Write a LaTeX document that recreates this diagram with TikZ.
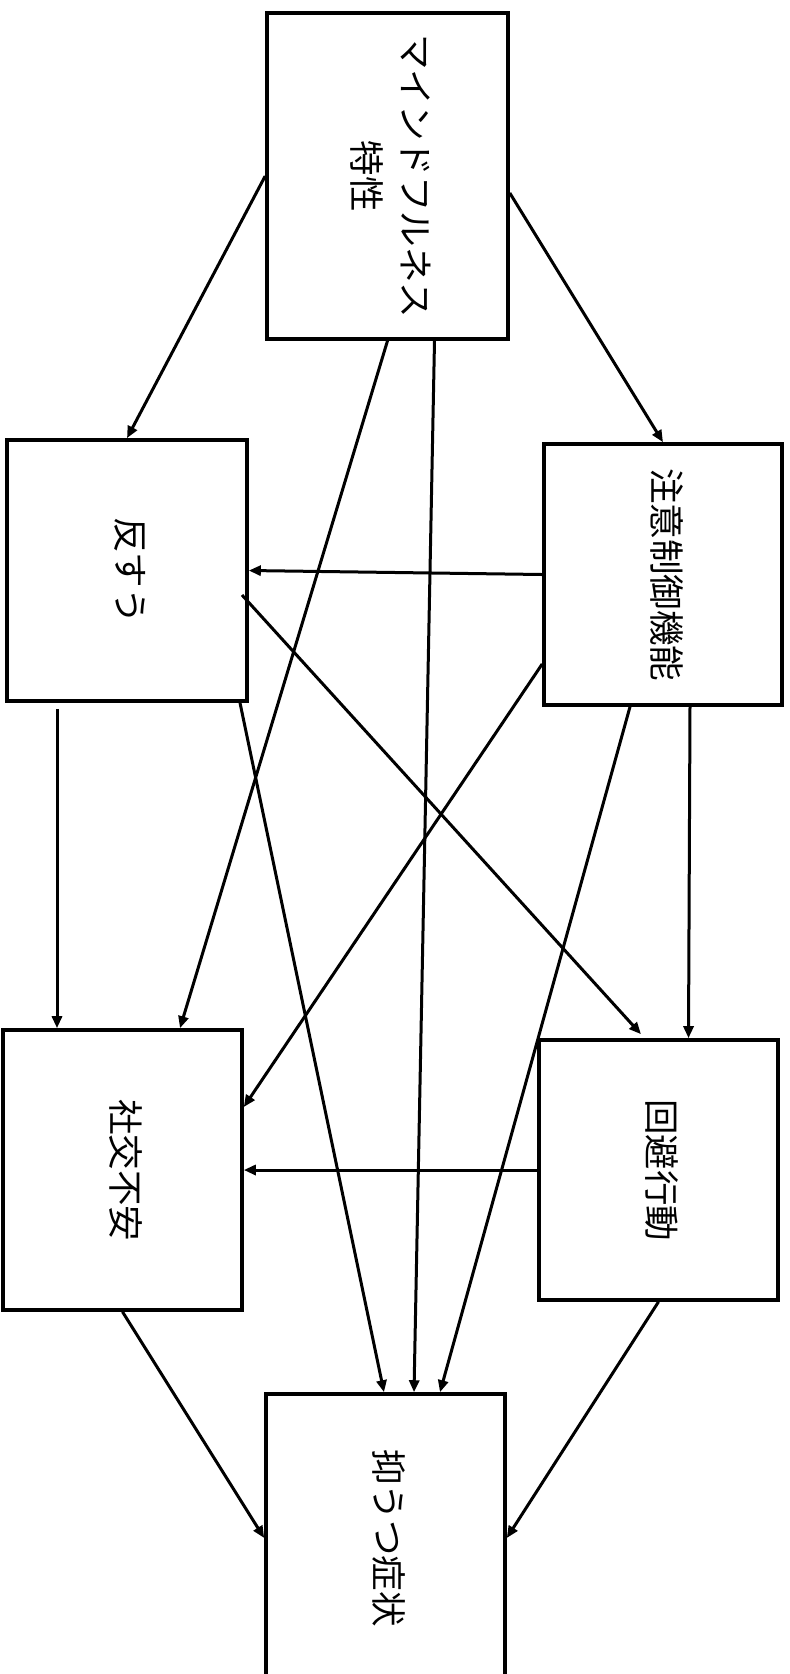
\documentclass[tikz,border=0pt]{standalone}
\usepackage{fontspec}
\usepackage{graphicx}
\setmainfont{Noto Sans CJK JP}
\usetikzlibrary{arrows.meta}
\tikzset{
  box/.style={draw, line width=3.6pt, inner sep=0pt, shape=rectangle},
  arr/.style={line width=3pt, -{Triangle[length=12pt,width=10pt]}},
}
\newcommand{\vtxt}[1]{\rotatebox{-90}{\fontsize{35.5}{49}\selectfont\begin{tabular}{@{}c@{}}#1\end{tabular}}}
\begin{document}
\begin{tikzpicture}[x=1pt,y=-1pt]
\clip (0,0) rectangle (790,1674);
\useasboundingbox (0,0) rectangle (790,1674);
\fill[white] (0,0) rectangle (790,1674);
\node[box, minimum width=241pt, minimum height=326pt] (MF) at (387.5,176) {\vtxt{マインドフルネス\\特性}};
\node[box, minimum width=240pt, minimum height=261pt] (R) at (127,570.5) {\vtxt{反すう}};
\node[box, minimum width=238pt, minimum height=261pt] (AC) at (663,574.5) {\vtxt{注意制御機能}};
\node[box, minimum width=239pt, minimum height=280pt] (SA) at (122.5,1170) {\vtxt{社交不安}};
\node[box, minimum width=239pt, minimum height=260pt] (AV) at (658.5,1170) {\vtxt{回避行動}};
\node[box, minimum width=239pt, minimum height=288pt] (DEP) at (385.5,1538) {\vtxt{抑うつ症状}};
\draw[arr] (MF.west) -- (R.north);
\draw[arr] ([yshift=-17pt]MF.east) -- (AC.north);
\draw[arr] (MF.south) -- ([xshift=57.5pt]SA.north);
\draw[arr] ([xshift=47pt]MF.south) -- ([xshift=28.5pt]DEP.north);
\draw[arr] (AC.west) -- (R.east);
\draw[arr] ([yshift=-89.5pt]AC.west) -- ([yshift=63pt]SA.east);
\draw[arr] ([xshift=-33pt]AC.south) -- ([xshift=54.5pt]DEP.north);
\draw[arr] ([xshift=27pt]AC.south) -- ([xshift=30pt]AV.north);
\draw[arr] ([xshift=115pt,yshift=-24.5pt]R.center) -- ([xshift=-17.5pt,yshift=4pt]AV.north);
\draw[arr] ([xshift=-70pt,yshift=-6pt]R.south) -- ([xshift=-65.5pt]SA.north);
\draw[arr] ([xshift=113pt]R.south) -- ([xshift=-1.5pt]DEP.north);
\draw[arr] (AV.west) -- (SA.east);
\draw[arr] (SA.south) -- (DEP.west);
\draw[arr] (AV.south) -- (DEP.east);
\end{tikzpicture}
\end{document}
